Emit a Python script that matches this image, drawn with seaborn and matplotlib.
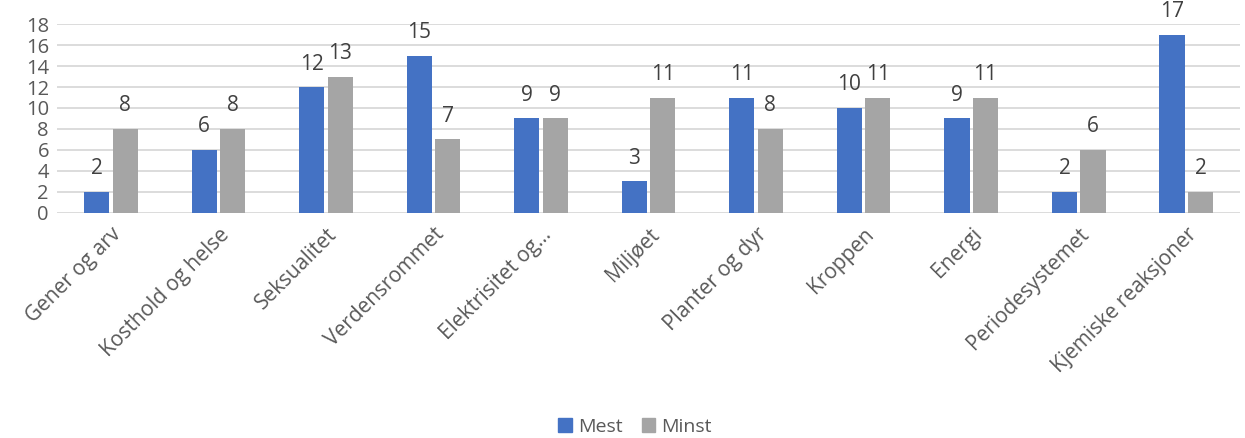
import pandas as pd
import numpy as np
import matplotlib.pyplot as plt
import seaborn as sns
from matplotlib.patches import Patch

# data
categories = ['Gener og arv', 'Kosthold og helse', 'Seksualitet', 'Verdensrommet',
              'Elektrisitet og…', 'Miljøet', 'Planter og dyr', 'Kroppen', 'Energi',
              'Periodesystemet', 'Kjemiske reaksjoner']
mest = [2, 6, 12, 15, 9, 3, 11, 10, 9, 2, 17]
minst = [8, 8, 13, 7, 9, 11, 8, 11, 11, 6, 2]
series_names = ['Mest', 'Minst']
yticks = list(range(0, 19, 2))

df = pd.DataFrame({'Tema': categories * 2,
                   'Serie': [series_names[0]] * len(categories) + [series_names[1]] * len(categories),
                   'Antall': mest + minst})

sns.set_style('white')
plt.rcParams['font.family'] = ['Open Sans', 'DejaVu Sans']
text_col = '#595959'
colors = ['#4472C4', '#A5A5A5']

fig = plt.figure(figsize=(12.45, 4.38), dpi=100)
ax = fig.add_axes([0.046, 0.514, 0.95, 0.431])

sns.barplot(data=df, x='Tema', y='Antall', hue='Serie', palette=colors,
            saturation=1, width=0.53, gap=0.12, linewidth=0,
            ax=ax, legend=False, zorder=3)

ax.set_ylim(0, 18)
ax.set_yticks(yticks)
ax.set_xlim(-0.5, len(categories) - 0.5)
ax.grid(axis='y', color='#D9D9D9', linewidth=1.3, zorder=0)
for s in ax.spines.values():
    s.set_visible(False)
ax.set_xlabel('')
ax.set_ylabel('')
ax.tick_params(axis='y', labelsize=14.5, colors=text_col, length=0, pad=6)
ax.tick_params(axis='x', labelsize=15, colors=text_col, length=0, pad=8)
plt.setp(ax.get_xticklabels(), rotation=45, ha='right', rotation_mode='anchor')

# verdier over stolpene
for cont in ax.containers:
    ax.bar_label(cont, padding=9, fontsize=15, color='#404040')

# legend nederst
handles = [Patch(color=c) for c in colors]
fig.legend(handles, series_names, loc='lower center', bbox_to_anchor=(0.51, -0.035),
           ncol=2, frameon=False, fontsize=14, handlelength=0.7, handleheight=0.7,
           handletextpad=0.3, columnspacing=1.0, labelcolor=text_col)

plt.savefig('out.png', dpi=100)
plt.close()
